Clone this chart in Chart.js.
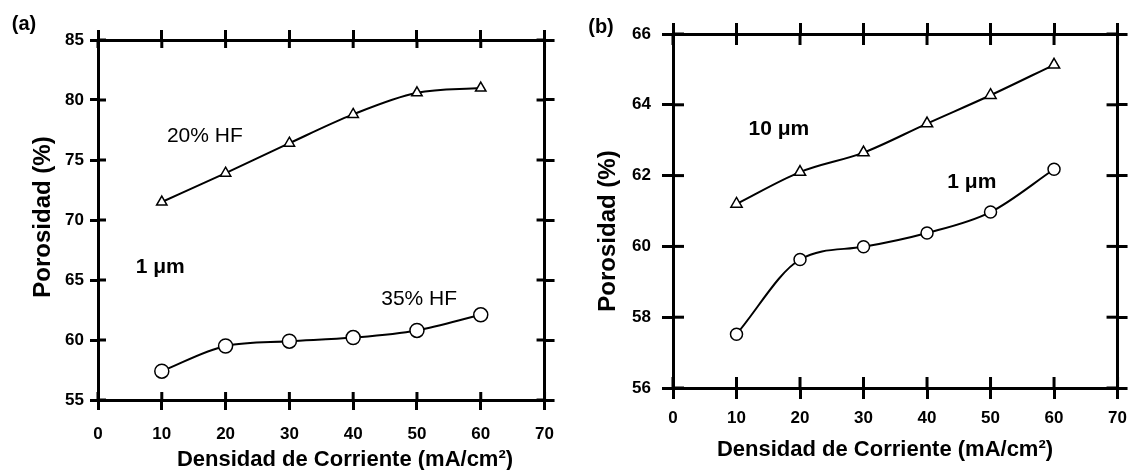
<!DOCTYPE html>
<html>
<head>
<meta charset="utf-8">
<script src="https://cdn.jsdelivr.net/npm/chart.js@4.4.0/dist/chart.umd.min.js"></script>
<style>
  html, body { margin: 0; padding: 0; background: #fff; }
  #wrap { position: relative; width: 1136px; height: 470px; }
  .panel { position: absolute; top: 0; width: 568px; height: 470px; }
</style>
</head>
<body>
<div id="wrap">
  <div class="panel" style="left:0"><canvas id="chartA"></canvas></div>
  <div class="panel" style="left:568px"><canvas id="chartB"></canvas></div>
</div>
<script>
// densidad de corriente (mA/cm2)
const currentDensity = [10, 20, 30, 40, 50, 60];
// panel (a): 1 um, two HF concentrations
const porosityHF20 = [71.5, 73.9, 76.4, 78.8, 80.6, 81.0];
const porosityHF35 = [57.4, 59.5, 59.9, 60.2, 60.8, 62.1];
// panel (b): two thicknesses
const porosity10um = [61.2, 62.1, 62.65, 63.47, 64.27, 65.13];
const porosity1um = [57.52, 59.63, 59.99, 60.38, 60.97, 62.18];
// tick labels
const xTicks = [0, 10, 20, 30, 40, 50, 60, 70];
const yTicksA = [55, 60, 65, 70, 75, 80, 85];
const yTicksB = [56, 58, 60, 62, 64, 66];

const FONT = "'Liberation Sans', Arial, Helvetica, sans-serif";
Chart.defaults.font.family = FONT;
Chart.defaults.color = '#000';

const points = ys => currentDensity.map((x, i) => ({ x: x, y: ys[i] }));

// tick marks pointing into the plot area
const innerTicks = {
    id: 'innerTicks',
    afterDraw(chart, args, opts) {
        const { ctx, chartArea: a } = chart;
        const len = opts.length;
        ctx.save();
        ctx.strokeStyle = '#000';
        ctx.lineWidth = 3;
        Object.values(chart.scales).forEach(scale => {
            scale.ticks.forEach(t => {
                const p = scale.getPixelForValue(t.value);
                ctx.beginPath();
                if (scale.position === 'bottom') { ctx.moveTo(p, a.bottom); ctx.lineTo(p, a.bottom - len); }
                else if (scale.position === 'top') { ctx.moveTo(p, a.top); ctx.lineTo(p, a.top + len); }
                else if (scale.position === 'left') { ctx.moveTo(a.left, p); ctx.lineTo(a.left + len, p); }
                else { ctx.moveTo(a.right, p); ctx.lineTo(a.right - len, p); }
                ctx.stroke();
            });
        });
        ctx.restore();
    }
};

// panel tag, axis titles and curve labels
const panelText = {
    id: 'panelText',
    afterDatasetsDraw(chart, args, opts) {
        const { ctx } = chart;
        const xs = chart.scales.x, ys = chart.scales.y;
        ctx.save();
        ctx.fillStyle = '#000';
        ctx.textBaseline = 'middle';
        ctx.textAlign = 'center';
        ctx.font = 'bold 20px ' + FONT;
        ctx.fillText(opts.tag, opts.tagX, opts.tagY);

        ctx.font = 'bold 22px ' + FONT;
        ctx.fillText('Densidad de Corriente (mA/cm²)', opts.xTitleX, opts.xTitleY);
        ctx.save();
        ctx.translate(opts.yTitleX, opts.yTitleY);
        ctx.rotate(-Math.PI / 2);
        ctx.font = 'bold 24px ' + FONT;
        ctx.fillText('Porosidad (%)', 0, 0);
        ctx.restore();

        ctx.textAlign = 'left';
        opts.notes.forEach(n => {
            ctx.font = (n.bold ? 'bold ' : '') + '21px ' + FONT;
            ctx.fillText(n.text, xs.getPixelForValue(n.x), ys.getPixelForValue(n.y));
        });
        ctx.restore();
    }
};

function makeScales(p) {
    const fixed = size => function (scale) {
        if (scale.isHorizontal()) scale.height = size; else scale.width = size;
    };
    const grid = len => ({ drawOnChartArea: false, drawTicks: true, tickLength: len, color: '#000', lineWidth: 3 });
    const border = { display: true, color: '#000', width: 3 };
    const setX = s => { s.ticks = xTicks.map(v => ({ value: v })); };
    const setY = s => { s.ticks = p.yTicks.map(v => ({ value: v })); };
    const yMin = p.yTicks[0], yMax = p.yTicks[p.yTicks.length - 1];
    return {
        x: {
            type: 'linear', position: 'bottom', min: 0, max: 70,
            afterBuildTicks: setX,
            grid: grid(p.xOut), border: border,
            ticks: { font: { size: 17, weight: 'bold' }, padding: p.xPad, autoSkip: false, maxRotation: 0 },
            afterFit: fixed(p.bottom)
        },
        xTop: {
            type: 'linear', position: 'top', min: 0, max: 70,
            afterBuildTicks: setX,
            grid: grid(p.xOut), border: border,
            ticks: { display: false },
            afterFit: fixed(p.top)
        },
        y: {
            type: 'linear', position: 'left', min: yMin, max: yMax,
            afterBuildTicks: setY,
            grid: grid(p.yOut), border: border,
            ticks: { font: { size: 17, weight: 'bold' }, padding: p.yPad, autoSkip: false },
            afterFit: fixed(p.left)
        },
        yRight: {
            type: 'linear', position: 'right', min: yMin, max: yMax,
            afterBuildTicks: setY,
            grid: grid(p.rOut), border: border,
            ticks: { display: false },
            afterFit: fixed(p.right)
        }
    };
}

function series(values, style, radius) {
    return {
        data: points(values),
        borderColor: '#000',
        borderWidth: 2,
        cubicInterpolationMode: 'monotone',
        pointStyle: style,
        pointRadius: radius,
        pointBackgroundColor: '#fff',
        pointBorderColor: '#000',
        pointBorderWidth: 1.5,
        fill: false
    };
}

function makeChart(id, datasets, p, text) {
    return new Chart(document.getElementById(id), {
        type: 'line',
        data: { datasets: datasets },
        options: {
            responsive: true,
            maintainAspectRatio: false,
            animation: false,
            layout: { padding: 0 },
            plugins: {
                legend: { display: false },
                tooltip: { enabled: false },
                innerTicks: { length: p.inLen },
                panelText: text
            },
            scales: makeScales(p)
        },
        plugins: [innerTicks, panelText]
    });
}

makeChart('chartA',
    [series(porosityHF20, 'triangle', 6), series(porosityHF35, 'circle', 7)],
    { yTicks: yTicksA, left: 98, right: 17, top: 40, bottom: 70,
      xOut: 10, yOut: 8, rOut: 10, inLen: 8,
      xPad: 14, yPad: 6 },
    { tag: '(a)', tagX: 24, tagY: 24,
      xTitleX: 345, xTitleY: 460, yTitleX: 43, yTitleY: 217,
      notes: [
          { text: '20% HF', x: 10.8, y: 77.0, bold: false },
          { text: '1 μm', x: 5.9, y: 66.1, bold: true },
          { text: '35% HF', x: 44.4, y: 63.4, bold: false }
      ] });

makeChart('chartB',
    [series(porosity10um, 'triangle', 6.5), series(porosity1um, 'circle', 6)],
    { yTicks: yTicksB, left: 105, right: 11, top: 34, bottom: 82,
      xOut: 11, yOut: 11, rOut: 10, inLen: 11,
      xPad: 9, yPad: 11 },
    { tag: '(b)', tagX: 33, tagY: 27,
      xTitleX: 317, xTitleY: 450, yTitleX: 40, yTitleY: 231,
      notes: [
          { text: '10 μm', x: 11.9, y: 63.3, bold: true },
          { text: '1 μm', x: 43.2, y: 61.8, bold: true }
      ] });
</script>
</body>
</html>
